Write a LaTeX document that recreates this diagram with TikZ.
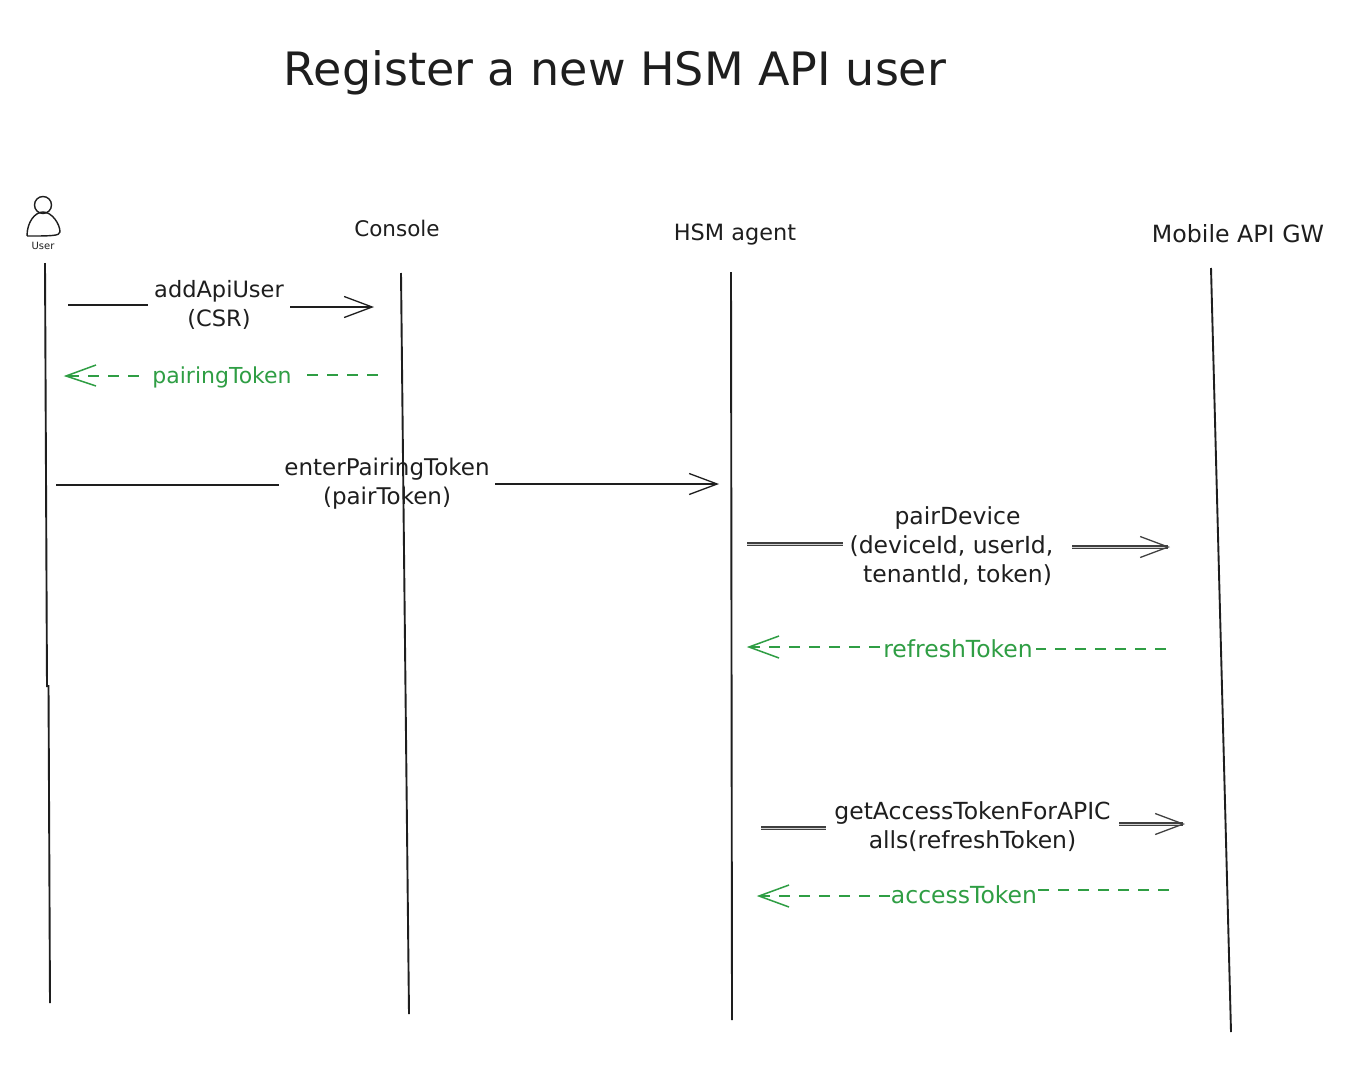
\documentclass[tikz,border=0pt]{standalone}
\usepackage{fontspec}
\setmainfont{DejaVu Sans}
\usetikzlibrary{arrows.meta}
\definecolor{ink}{HTML}{1E1E1E}
\definecolor{grn}{HTML}{2F9E44}
\tikzset{
  lifeline/.style={draw=ink,line width=1.9pt},
  msg/.style={draw=ink,line width=1.7pt},
  dbl/.style={draw=ink!85,line width=1.1pt,double=gray!35,double distance=1pt},
  tip/.style={-{Straight Barb[length=28pt,width=21pt,line width=1.3pt]}},
  rsp/.style={draw=grn,line width=1.6pt,dash pattern=on 11pt off 9pt},
  rsptip/.style={draw=grn,line width=1.5pt},
  lbl/.style={inner sep=0pt,align=center,text=ink,font=\fontsize{23.5}{29}\selectfont},
  grnlbl/.style={lbl,text=grn},
  head/.style={inner sep=0pt,text=ink}
}
\begin{document}
\begin{tikzpicture}[x=1pt,y=-1pt]
\useasboundingbox (0,0) rectangle (1356,1068);
\fill[white] (0,0) rectangle (1356,1068);
% title
\node[inner sep=0pt,text=ink,font=\fontsize{46}{54}\selectfont] (title) at (615,73) {Register a new HSM API user};
% actor
\node[circle,draw=ink,line width=1.4pt,minimum size=17pt,inner sep=0pt] (userhead) at (43,205) {};
\draw[ink,line width=1.4pt] (27,236) .. controls (27,222) and (35,212) .. (43,212)
  .. controls (52,212) and (60,224) .. (60,232) .. controls (60,236) and (50,236) .. (27,236);
\node[inner sep=0pt,text=ink,font=\fontsize{10}{11}\selectfont] (user) at (43,246) {User};
% headers
\node[head,font=\fontsize{21.5}{24}\selectfont] (console) at (397,228) {Console};
\node[head,font=\fontsize{22.4}{24}\selectfont] (hsm) at (735,235) {HSM agent};
\node[head,font=\fontsize{23.7}{24}\selectfont] (gw) at (1238,234) {Mobile API GW};
% lifelines
\coordinate (u1) at (45,263); \coordinate (u2) at (47,687);
\coordinate (u3) at (48.5,685); \coordinate (u4) at (50,1003);
\coordinate (c1) at (401,273); \coordinate (c2) at (409,1014);
\coordinate (h1) at (731,272); \coordinate (h2) at (732,1020);
\coordinate (g1) at (1211,268); \coordinate (g2) at (1231,1032);
\draw[lifeline] (u1) -- (u2);
\draw[lifeline] (u3) -- (u4);
\draw[lifeline] (c1) -- (c2);
\draw[lifeline] (h1) -- (h2);
\draw[lifeline] (g1) -- (g2);
% addApiUser
\node[lbl,minimum width=142pt,font=\fontsize{22.5}{29}\selectfont] (m1) at (219,305) {addApiUser\\(CSR)};
\coordinate (m1a) at (68,305); \coordinate (m1b) at (374,307);
\draw[msg] (m1a) -- (m1.west |- m1a);
\draw[msg,tip] (m1.east |- m1b) -- (m1b);
% pairingToken
\node[grnlbl,minimum width=166pt,font=\fontsize{22}{29}\selectfont] (r1) at (222,377) {pairingToken};
\coordinate (r1a) at (378,375); \coordinate (r1b) at (66,376);
\draw[rsp] (r1a) -- (r1.east |- r1a);
\draw[rsp] (r1.west |- r1b) -- (r1b);
\draw[rsptip] (96,365) -- (r1b) -- (96,386);
% enterPairingToken
\node[lbl,minimum width=216pt,font=\fontsize{23}{29}\selectfont] (m2) at (387,484) {enterPairingToken\\(pairToken)};
\coordinate (m2a) at (56,485); \coordinate (m2b) at (719,484);
\draw[msg] (m2a) -- (m2.west |- m2a);
\draw[msg,tip] (m2.east |- m2b) -- (m2b);
% pairDevice
\node[lbl,minimum width=229pt] (m3) at (957.5,546) {pairDevice\\(deviceId, userId,\rule{12pt}{0pt}\\tenantId, token)};
\coordinate (m3a) at (747,544); \coordinate (m3b) at (1170,547);
\draw[dbl] (m3a) -- (m3.west |- m3a);
\draw[dbl,tip] (m3.east |- m3b) -- (m3b);
% refreshToken
\node[grnlbl,minimum width=156pt] (r2) at (958,649) {refreshToken};
\coordinate (r2a) at (1166,649); \coordinate (r2b) at (749,647);
\draw[rsp] (r2a) -- (r2.east |- r2a);
\draw[rsp] (r2.west |- r2b) -- (r2b);
\draw[rsptip] (779,636) -- (r2b) -- (779,658);
% getAccessToken
\node[lbl,minimum width=293pt] (m4) at (972.5,827) {getAccessTokenForAPIC\\alls(refreshToken)};
\coordinate (m4a) at (761,828); \coordinate (m4b) at (1185,824);
\draw[dbl] (m4a) -- (m4.west |- m4a);
\draw[dbl,tip] (m4.east |- m4b) -- (m4b);
% accessToken
\node[grnlbl,minimum width=148pt] (r3) at (964,895) {accessToken};
\coordinate (r3a) at (1169,890); \coordinate (r3b) at (759,896);
\draw[rsp] (r3a) -- (r3.east |- r3a);
\draw[rsp] (r3.west |- r3b) -- (r3b);
\draw[rsptip] (789,885) -- (r3b) -- (789,907);
\end{tikzpicture}
\end{document}
